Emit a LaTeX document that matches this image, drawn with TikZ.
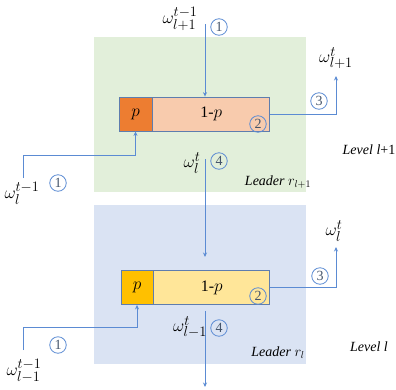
\documentclass[tikz,border=0pt]{standalone}
\usepackage{fontspec}
\setmainfont{Liberation Serif}
\usetikzlibrary{arrows.meta,positioning}

\begin{document}
\begin{tikzpicture}[x=1pt, y=-1pt, >={Stealth[length=4.5pt,width=4pt]},
    font=\fontsize{14}{16}\selectfont,
    flow/.style={draw=lineBlue, line width=0.9pt},
    cell/.style={draw=edgeBlue, line width=0.8pt, minimum height=34pt, inner sep=0pt,
                 font=\fontsize{16}{18}\selectfont},
    num/.style={circle, draw=lineBlue, line width=0.8pt, minimum size=16.5pt, inner sep=0pt,
                text=numGray, font=\fontsize{14}{14}\selectfont},
    wlab/.style={font=\fontsize{19}{21}\selectfont, inner sep=1pt}]

    \definecolor{levelGreen}{HTML}{E2EFDA}
    \definecolor{levelBlue}{HTML}{DAE3F3}
    \definecolor{pOrange}{HTML}{ED7D31}
    \definecolor{qOrange}{HTML}{F8CBAD}
    \definecolor{pYellow}{HTML}{FFC000}
    \definecolor{qYellow}{HTML}{FFE699}
    \definecolor{edgeBlue}{HTML}{5E7DAE}
    \definecolor{lineBlue}{HTML}{5B8BD3}
    \definecolor{numGray}{HTML}{44546A}

  \useasboundingbox (0,0) rectangle (396,389);

  % the two levels
  \fill[levelGreen] (94,37) rectangle (306,192);
  \fill[levelBlue] (94,205) rectangle (306,364);

  % leader r_{l+1}
  \node[cell, fill=pOrange, minimum width=33pt] (pTop) at (135.5,114) {$p$};
  \node[cell, fill=qOrange, minimum width=117pt, anchor=west] (restTop) at (pTop.east) {1-$p$};

  % leader r_l
  \node[cell, fill=pYellow, minimum width=32pt] (pBot) at (137,287.5) {$p$};
  \node[cell, fill=qYellow, minimum width=116pt, anchor=west] (restBot) at (pBot.east) {1-$p$};

  % free ends
  \coordinate (inTop) at (205,24);
  \coordinate (outTop) at (336,76);
  \coordinate (inLeftTop) at (23,178);
  \coordinate (downA) at (205,159);
  \coordinate (downB) at (205,257);
  \coordinate (outBot) at (336,247);
  \coordinate (inLeftBot) at (23,350);
  \coordinate (downC) at (205,387);

  % connectors
  \draw[flow, ->] (inTop) -- (inTop |- restTop.north);
  \draw[flow, ->] (restTop.east) -| (outTop);
  \draw[flow, ->] (inLeftTop) |- (23,155) -| (pTop.south);
  \draw[flow, ->] (downA) -- (downB);
  \draw[flow, ->] (restBot.east) -| (outBot);
  \draw[flow, ->] (inLeftBot) |- (23,327) -| (pBot.south);
  \draw[flow, ->] (downC |- restBot.south) ++(0,6) -- (downC);

  % labels
  \node[wlab] (wTopIn) at (180,19) {$\omega_{l+1}^{t-1}$};
  \node[wlab] (wTopOut) at (336,58) {$\omega_{l+1}^{t}$};
  \node[wlab] (wMid) at (192,163) {$\omega_{l}^{t}$};
  \node[wlab] (wLeftTop) at (22,193) {$\omega_{l}^{t-1}$};
  \node[wlab] (wBotOut) at (334,231) {$\omega_{l}^{t}$};
  \node[wlab] (wBotMid) at (190,327) {$\omega_{l-1}^{t}$};
  \node[wlab] (wLeftBot) at (24,371) {$\omega_{l-1}^{t-1}$};

  % step numbers
  \node[num] (oneTop) at (219,27) {1};
  \node[num] (twoTop) at (258,124) {2};
  \node[num] (threeTop) at (319,101) {3};
  \node[num] (fourTop) at (219,161) {4};
  \node[num] (oneLeftTop) at (58,183) {1};
  \node[num] (oneLeftBot) at (58,345) {1};
  \node[num] (twoBot) at (258,296) {2};
  \node[num] (threeBot) at (320,276) {3};
  \node[num] (fourBot) at (219,328) {4};

  % level and leader names
  \node (levTop) at (369,150) {\textit{Level l}+1};
  \node (leadTop) at (278,182) {\textit{Leader} $r_{l+1}$};
  \node (levBot) at (369,347) {\textit{Level l}};
  \node (leadBot) at (278,353) {\textit{Leader} $r_{l}$};

\end{tikzpicture}
\end{document}
